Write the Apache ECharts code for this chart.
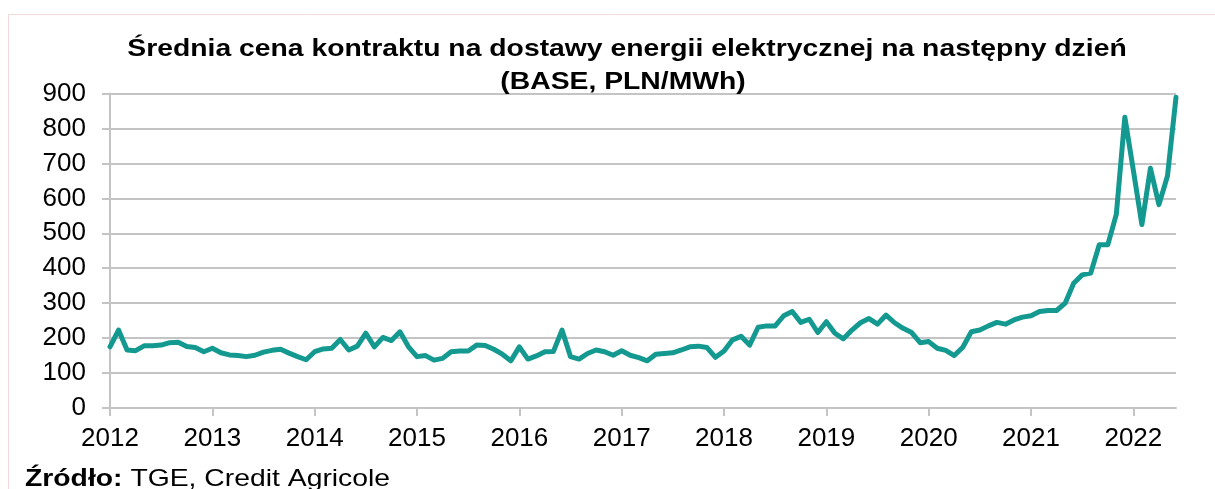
<!DOCTYPE html>
<html>
<head>
<meta charset="utf-8">
<script src="https://cdn.jsdelivr.net/npm/echarts@6/dist/echarts.min.js"></script>
<style>
  html, body { margin: 0; padding: 0; background: #fff; }
  #chart { width: 1215px; height: 489px; }
</style>
</head>
<body>
<div id="chart"></div>
<script>
// miesięczne średnie ceny (PLN/MWh)
const years = [2012, 2013, 2014, 2015, 2016, 2017, 2018, 2019, 2020, 2021, 2022]
const p2012 = [175, 223, 166, 164, 178, 178, 180, 187, 188, 176, 173, 161]
const p2013 = [171, 158, 152, 150, 147, 151, 160, 165, 168, 157, 147, 138]
const p2014 = [161, 169, 171, 196, 166, 177, 214, 175, 202, 193, 218, 175]
const p2015 = [147, 150, 137, 142, 161, 163, 163, 180, 179, 168, 154, 135]
const p2016 = [175, 140, 149, 161, 162, 223, 147, 140, 156, 166, 161, 151]
const p2017 = [164, 151, 144, 135, 154, 156, 158, 166, 175, 177, 173, 145]
const p2018 = [163, 195, 205, 180, 231, 235, 235, 264, 276, 245, 254, 216]
const p2019 = [247, 214, 198, 223, 244, 256, 240, 266, 244, 228, 216, 187]
const p2020 = [190, 171, 165, 150, 174, 218, 223, 235, 245, 240, 252, 260]
const p2021 = [264, 276, 279, 279, 300, 357, 381, 386, 467, 467, 554, 832]
const p2022 = [680, 525, 686, 582, 664, 889]

const prices = [].concat(p2012, p2013, p2014, p2015, p2016, p2017, p2018, p2019, p2020, p2021, p2022)

const titleLines = [
  'Średnia cena kontraktu na dostawy energii elektrycznej na następny dzień',
  '(BASE, PLN/MWh)'
]

// kategorie: rok-miesiąc
let months = []
for (let i = 0; i < prices.length; i++) {
  let y = years[0] + Math.floor(i / 12)
  let m = (i % 12) + 1
  months.push(y + '-' + (m < 10 ? '0' + m : m))
}

const gridColor = '#c4c4c4'
const font = 'Liberation Sans, Arial, sans-serif'
const stretch = 1.18 // tekst w oryginale jest rozciągnięty w poziomie

const chart = echarts.init(document.getElementById('chart'), null, { renderer: 'canvas' })

var option = {
  backgroundColor: '#fff',
  animation: false,
  graphic: [
    {
      type: 'rect',
      shape: { x: 8.5, y: 14.5, width: 1230, height: 500 },
      style: { fill: 'none', stroke: '#f3dada', lineWidth: 1 },
      silent: true
    },
    {
      type: 'text',
      x: 627,
      y: 49,
      z: 100,
      scaleX: stretch,
      style: {
        text: titleLines[0],
        font: 'bold 24px ' + font,
        fill: '#000',
        textAlign: 'center',
        textVerticalAlign: 'middle'
      }
    },
    {
      type: 'text',
      x: 623,
      y: 82.5,
      z: 100,
      scaleX: stretch,
      style: {
        text: titleLines[1],
        font: 'bold 24px ' + font,
        fill: '#000',
        textAlign: 'center',
        textVerticalAlign: 'middle'
      }
    },
    {
      type: 'text',
      x: 25,
      y: 467,
      z: 100,
      scaleX: stretch,
      style: {
        text: '{b|Źródło:} TGE, Credit Agricole',
        font: '24px ' + font,
        fill: '#000',
        rich: {
          b: { fontFamily: font, fontSize: 24, fontWeight: 'bold', fill: '#000' }
        }
      }
    }
  ],
  grid: {
    left: 110,
    right: 39,
    top: 93.5,
    bottom: 81
  },
  xAxis: {
    type: 'category',
    boundaryGap: false,
    data: months,
    axisLine: { lineStyle: { color: gridColor, width: 2 } },
    axisTick: {
      length: 8,
      interval: function (i) { return i % 12 === 0 },
      lineStyle: { color: gridColor, width: 2 }
    },
    axisLabel: {
      interval: function (i) { return i % 12 === 0 },
      formatter: function (v) { return v.slice(0, 4) },
      margin: 18,
      fontFamily: font,
      fontSize: 26,
      color: '#000'
    },
    splitLine: { show: false }
  },
  yAxis: {
    type: 'value',
    min: 0,
    max: 900,
    interval: 100,
    axisLine: { show: true, lineStyle: { color: gridColor, width: 2 } },
    axisTick: { show: true, length: 8, lineStyle: { color: gridColor, width: 2 } },
    axisLabel: {
      margin: 24,
      fontFamily: font,
      fontSize: 26,
      color: '#000'
    },
    splitLine: { lineStyle: { color: gridColor, width: 2 } }
  },
  series: [
    {
      name: 'BASE',
      type: 'line',
      data: prices,
      symbol: 'none',
      smooth: false,
      lineStyle: { color: '#13998f', width: 5, join: 'round', cap: 'round' }
    }
  ]
}

chart.setOption(option)
</script>
</body>
</html>
